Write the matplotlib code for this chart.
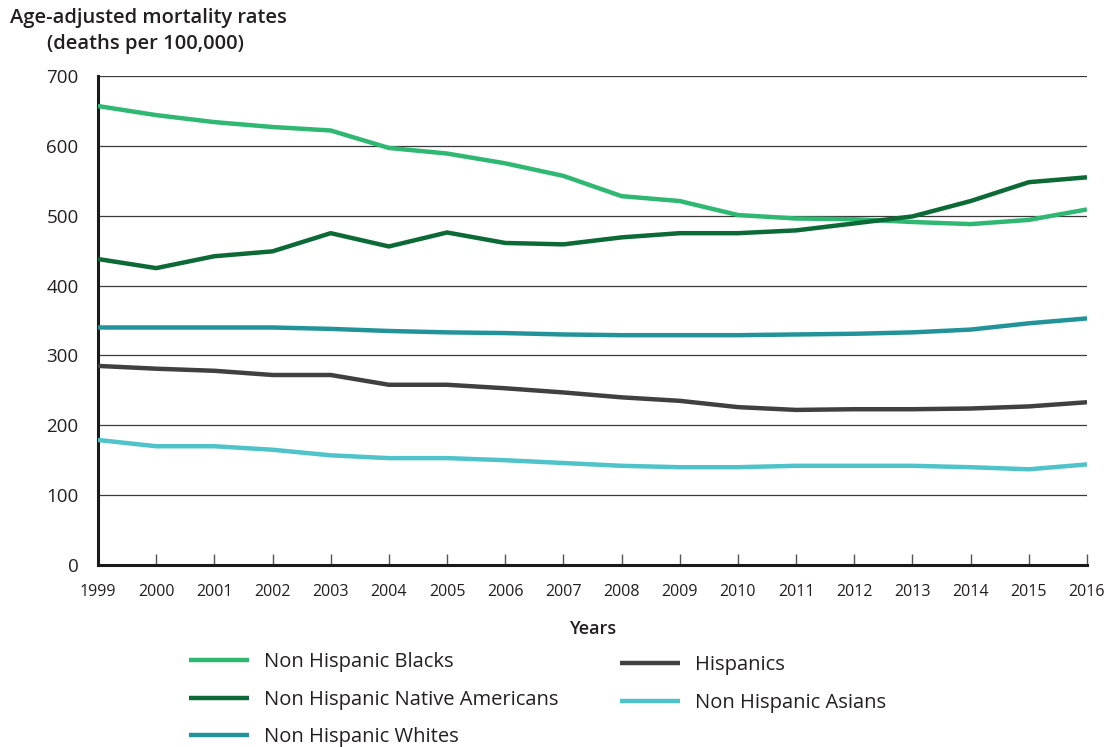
import matplotlib
matplotlib.use("Agg")
import matplotlib.pyplot as plt

plt.rcParams['font.family'] = ['Open Sans', 'DejaVu Sans']

years = list(range(1999, 2017))
blacks = [657, 644, 634, 627, 622, 597, 589, 575, 557, 528, 521, 501, 496, 495, 491, 488, 494, 509]
native = [438, 425, 442, 449, 475, 456, 476, 461, 459, 469, 475, 475, 479, 489, 499, 521, 548, 555]
whites = [340, 340, 340, 340, 338, 335, 333, 332, 330, 329, 329, 329, 330, 331, 333, 337, 346, 353]
hispanics = [285, 281, 278, 272, 272, 258, 258, 253, 247, 240, 235, 226, 222, 223, 223, 224, 227, 233]
asians = [179, 170, 170, 165, 157, 153, 153, 150, 146, 142, 140, 140, 142, 142, 142, 140, 137, 144]
yticks = [0, 100, 200, 300, 400, 500, 600, 700]

series = [
    ("Non Hispanic Blacks", blacks, "#2eb872"),
    ("Non Hispanic Native Americans", native, "#0c6a37"),
    ("Non Hispanic Whites", whites, "#229499"),
    ("Hispanics", hispanics, "#404040"),
    ("Non Hispanic Asians", asians, "#4ec3c9"),
]

txt = "#231f20"
fig = plt.figure(figsize=(11.11, 7.47), dpi=100)
ax = fig.add_axes([98/1111, 1-565/747, (1087-98)/1111, (565-76)/747])

handles = {}
for name, vals, col in series:
    h, = ax.plot(years, vals, color=col, lw=3.2, solid_capstyle='butt', zorder=3)
    handles[name] = h

ax.set_xlim(1999, 2016)
ax.set_ylim(0, 700)
ax.set_yticks(yticks)
ax.yaxis.grid(True, color="#3a3a3a", lw=0.9)
ax.set_axisbelow(True)
ax.tick_params(axis='y', length=0, labelsize=13.5, labelcolor=txt, pad=14)
ax.set_xticks(years)
ax.tick_params(axis='x', direction='in', length=8, width=1, color="#555555",
               labelsize=11.5, labelcolor=txt, pad=14)
for s in ['top', 'right']:
    ax.spines[s].set_visible(False)
for s in ['left', 'bottom']:
    ax.spines[s].set_linewidth(2.2)
    ax.spines[s].set_color("#1a1a1a")

ax.set_xlabel("Years", fontsize=13, fontweight='semibold', color=txt, labelpad=14)

fig.text(10/1111, 1-18/747, "Age-adjusted mortality rates", fontsize=14.5, fontweight='semibold',
         color=txt, ha='left', va='center')
fig.text(145/1111, 1-44/747, "(deaths per 100,000)", fontsize=14.5, fontweight='semibold',
         color=txt, ha='center', va='center')

names1 = ["Non Hispanic Blacks", "Non Hispanic Native Americans", "Non Hispanic Whites"]
names2 = ["Hispanics", "Non Hispanic Asians"]
common = dict(frameon=False, prop={'size': 14.5, 'weight': 'medium'}, handlelength=3.0,
              handletextpad=0.72, labelspacing=0.88, borderpad=0, borderaxespad=0,
              labelcolor=txt)
leg1 = fig.legend([handles[n] for n in names1], names1, loc='upper left',
                  bbox_to_anchor=(189/1111, 1-652/747), **common)
leg2 = fig.legend([handles[n] for n in names2], names2, loc='upper left',
                  bbox_to_anchor=(620/1111, 1-655/747), **common)

fig.savefig("out.png", dpi=100)
